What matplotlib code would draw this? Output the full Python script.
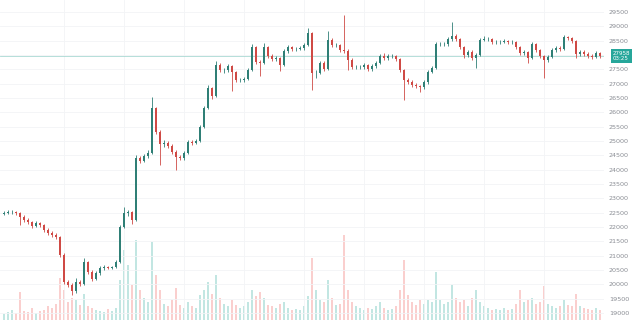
import numpy as np
import matplotlib
matplotlib.use("Agg")
import matplotlib.pyplot as plt

# Price data
close = [22485, 22520, 22520, 22485, 22345, 22240, 22170, 22030, 22120, 22065,
         21890, 21790, 21715, 21650, 21020, 20080, 19970, 19760, 20080, 20010,
         20775, 20425, 20180, 20390, 20565, 20600, 20565, 20600, 20775, 21995,
         22485, 22520, 22240, 24405, 24300, 24475, 24580, 26150, 25310, 24895,
         24930, 24825, 24615, 24440, 24405, 24580, 24965, 24930, 25000, 25490,
         26150, 26850, 26570, 27650, 27475, 27475, 27615, 27405, 27125, 27125,
         27160, 27475, 28280, 27755, 27720, 28280, 27965, 27860, 27895, 27650,
         28140, 28280, 28210, 28210, 28245, 28350, 28765, 27370, 27370, 27720,
         27510, 28525, 28350, 28350, 28175, 28140, 27825, 27580, 27580, 27580,
         27650, 27510, 27615, 27720, 27965, 27895, 27965, 27965, 27860, 27475,
         27125, 27055, 26950, 26920, 26880, 27055, 27405, 27545, 28385, 28385,
         28385, 28560, 28665, 28560, 28280, 28000, 28105, 27895, 28000, 28525,
         28560, 28560, 28455, 28455, 28455, 28490, 28455, 28455, 28280, 28070,
         28105, 27895, 28385, 28175, 27965, 27825, 27930, 28175, 28245, 28210,
         28625, 28590, 28490, 28035, 28105, 28035, 27965, 27930, 28070, 27958]

high = [22560, 22590, 22600, 22570, 22530, 22400, 22300, 22220, 22200, 22180,
        22110, 21950, 21840, 21800, 21700, 21080, 20150, 20030, 20200, 20150,
        20920, 20820, 20480, 20450, 20620, 20660, 20650, 20650, 20830, 22080,
        22700, 22600, 22560, 24500, 24470, 24560, 24700, 26530, 26200, 25380,
        25050, 25000, 24880, 24700, 24520, 24650, 25050, 25040, 25080, 25560,
        26220, 26950, 26900, 27800, 27720, 27560, 27700, 27660, 27450, 27210,
        27240, 27540, 28380, 28330, 27820, 28420, 28330, 28020, 27960, 27940,
        28200, 28350, 28320, 28290, 28310, 28430, 28940, 28800, 27460, 27800,
        27780, 28840, 28580, 28430, 28400, 29400, 28200, 27880, 27660, 27650,
        27720, 27700, 27680, 27790, 28040, 28060, 28030, 28040, 28010, 27900,
        27520, 27200, 27110, 27020, 26960, 27120, 27480, 27620, 28470, 28470,
        28460, 28630, 29150, 28720, 28600, 28330, 28180, 28160, 28070, 28600,
        28680, 28640, 28600, 28520, 28530, 28560, 28540, 28520, 28500, 28320,
        28170, 28150, 28450, 28420, 28220, 28010, 28000, 28240, 28320, 28300,
        28700, 28680, 28640, 28530, 28180, 28160, 28090, 28030, 28140, 28110]

low = [22400, 22440, 22450, 22420, 22060, 22170, 22090, 21960, 21980, 21990,
       21830, 21720, 21650, 21580, 20950, 20000, 19900, 19620, 19700, 19930,
       19960, 20350, 20100, 20130, 20330, 20510, 20520, 20520, 20560, 20740,
       21950, 22380, 22100, 22200, 24220, 24250, 24420, 24530, 25250, 24160,
       24800, 24750, 24540, 23990, 24320, 24350, 24530, 24860, 24880, 24950,
       25440, 26100, 26480, 26520, 27400, 27380, 27420, 26750, 27050, 27040,
       27060, 27110, 27430, 27680, 27250, 27680, 27890, 27790, 27800, 27450,
       27600, 28080, 28140, 28130, 28160, 28190, 28300, 26780, 27200, 27320,
       27430, 27460, 28270, 28270, 28100, 28060, 27480, 27500, 27500, 27510,
       27520, 27440, 27450, 27560, 27680, 27830, 27840, 27900, 27790, 27400,
       26430, 26980, 26880, 26850, 26720, 26820, 27000, 27360, 27500, 28300,
       28310, 28330, 28500, 28480, 28200, 27900, 27930, 27820, 27540, 27950,
       28480, 28490, 28390, 28390, 28390, 28410, 28390, 28380, 28210, 28000,
       28000, 27720, 27850, 28100, 27880, 27200, 27760, 27880, 28120, 28140,
       28160, 28520, 28420, 27900, 27970, 27960, 27880, 27850, 27880, 27900]

volume = [6, 8, 10, 7, 28, 9, 8, 12, 7, 9,
          10, 14, 12, 16, 42, 30, 18, 22, 20, 15,
          26, 14, 12, 10, 9, 8, 11, 9, 12, 40,
          70, 55, 35, 80, 30, 22, 18, 78, 45, 30,
          16, 14, 20, 32, 15, 12, 18, 14, 12, 25,
          30, 38, 26, 45, 22, 16, 14, 20, 15, 12,
          14, 18, 30, 24, 28, 22, 15, 14, 12, 16,
          18, 12, 10, 11, 10, 14, 24, 62, 30, 20,
          18, 40, 22, 15, 16, 85, 30, 18, 14, 12,
          10, 12, 11, 14, 18, 12, 10, 11, 14, 30,
          60, 25, 18, 15, 20, 16, 20, 18, 48, 20,
          16, 18, 35, 22, 18, 20, 14, 22, 30, 18,
          14, 12, 10, 11, 10, 12, 10, 11, 16, 30,
          18, 20, 22, 16, 18, 34, 16, 14, 12, 14,
          20, 15, 14, 26, 14, 12, 11, 10, 12, 10]

first_open = 22450
price_ticks = list(range(19000, 30000, 500))
hidden_tick = 28000          # covered by the last-price tag
last_price = 27958
countdown = "03:25"

UP = "#26a69a"
DOWN = "#ef5350"

close = np.array(close)
high = np.array(high)
low = np.array(low)
opn = np.concatenate([[first_open], close[:-1]])
x = np.arange(len(close))
up = close >= opn

fig = plt.figure(figsize=(6.4, 3.2), dpi=100)
ax = fig.add_axes([0, 0, 604 / 640, 1])

# volume underneath
axv = ax.twinx()
axv.set_zorder(0)
ax.set_zorder(1)
ax.patch.set_visible(False)
vcol = [UP if u else DOWN for u in up]
axv.bar(x, volume, width=0.6, color=vcol, alpha=0.28, linewidth=0)
axv.set_ylim(0, 320)
axv.set_yticks([])

# candles
ccol = np.where(up, "#2f7f76", "#cf4a45")
ax.vlines(x, low, high, colors=ccol, linewidth=0.6)
body_lo = np.minimum(opn, close)
body_h = np.maximum(np.abs(close - opn), 15)
ax.bar(x, body_h, bottom=body_lo, width=0.55, color=ccol, linewidth=0)

ax.set_xlim(-1, 150)
ax.set_ylim(18751, 29919)

# grid
for p in price_ticks:
    ax.axhline(p, color="#f2f4f6", linewidth=0.6, zorder=0)
for gx in [15, 30, 45, 60, 75, 90, 105, 120, 135]:
    ax.axvline(gx, color="#f2f4f6", linewidth=0.6, zorder=0)
ax.axhline(last_price, color="#a9d9d3", linewidth=0.6, zorder=0.5)

for s in ax.spines.values():
    s.set_visible(False)
for s in axv.spines.values():
    s.set_visible(False)
ax.set_xticks([])
ax.yaxis.tick_right()
ax.set_yticks(price_ticks)
ax.set_yticklabels(["" if p == hidden_tick else str(p) for p in price_ticks])
ax.tick_params(axis="y", length=0, labelsize=4.6, labelcolor="#8a8d94", pad=3.5)

# last price label
ax.text(1.014, last_price, f"{last_price}\n{countdown}", transform=ax.get_yaxis_transform(),
        ha="left", va="center", fontsize=4.0, color="white", linespacing=1.1,
        bbox=dict(boxstyle="square,pad=0.35", fc=UP, ec="none"), zorder=5, clip_on=False)

fig.savefig("out.png", dpi=100, facecolor="white")
